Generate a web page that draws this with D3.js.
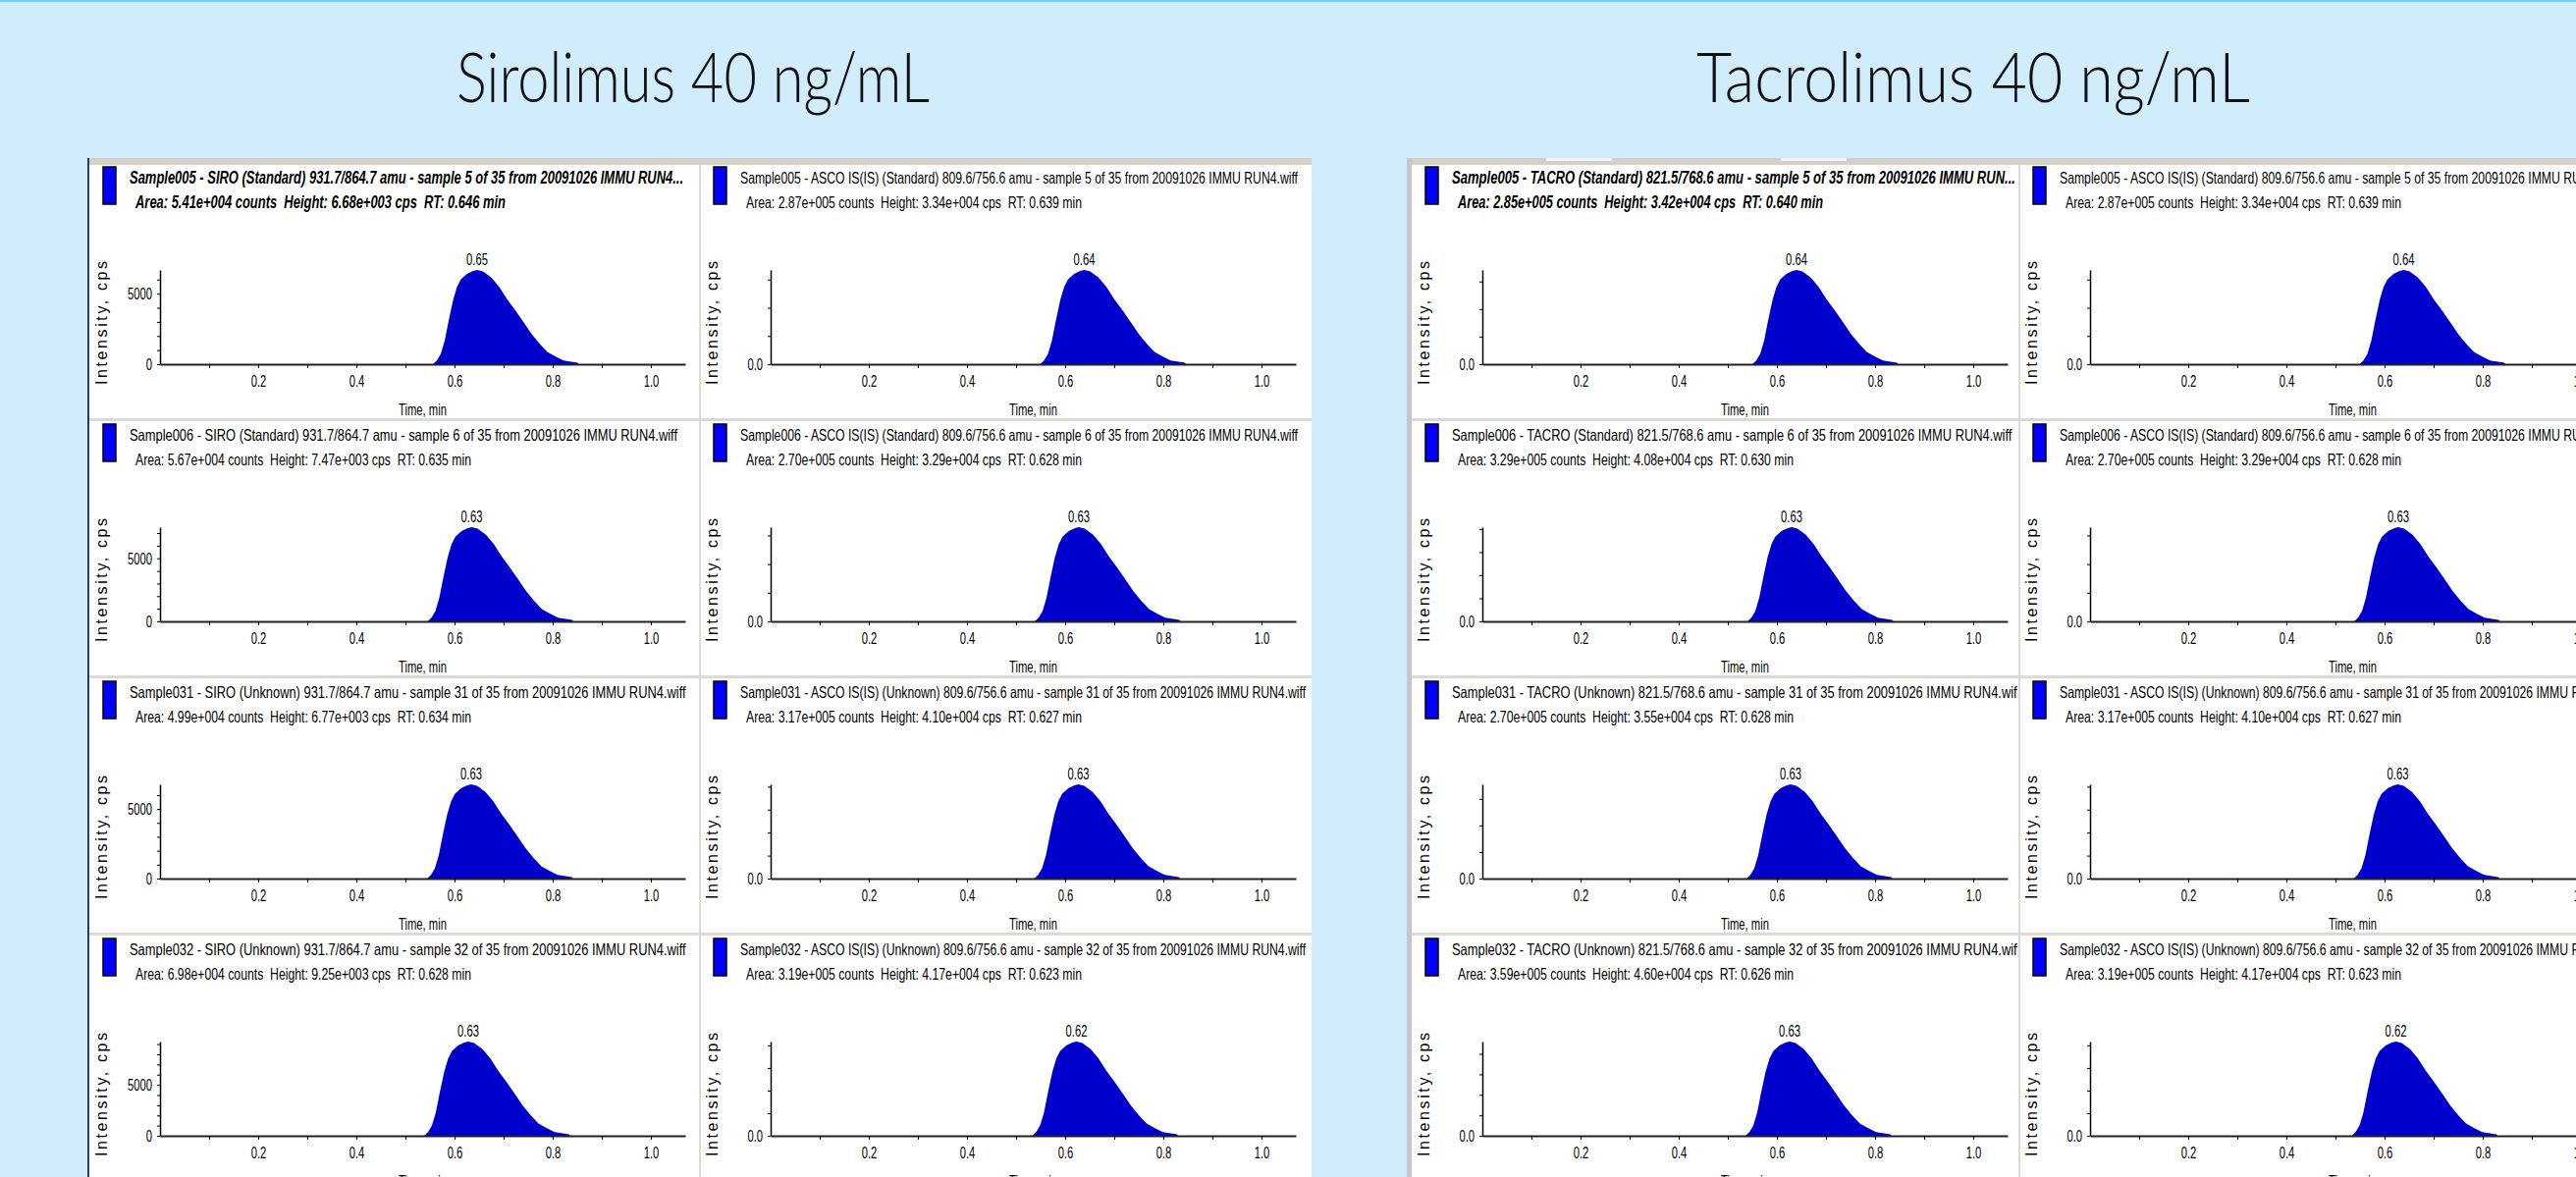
<!DOCTYPE html>
<html>
<head>
<meta charset="utf-8">
<script src="https://cdn.jsdelivr.net/npm/d3@7"></script>
<style>
   body { margin: 0; background: #d1ecfa; overflow: hidden; }
   .bigTitle { font-family: Lato, "Open Sans", sans-serif; font-weight: 300; font-size: 71px; fill: #111; }
   .hdr { font-family: "Liberation Sans", Arial, sans-serif; font-size: 16.5px; fill: #000; white-space: pre; }
   .hdr.sel { font-weight: bold; font-style: italic; font-size: 18px; }
   .tick text { font-family: "Liberation Sans", Arial, sans-serif; font-size: 17px; fill: #000; }
   .apex { font-family: "Liberation Sans", Arial, sans-serif; font-size: 17px; fill: #000; }
   .xlab { font-family: "Liberation Sans", Arial, sans-serif; font-size: 17px; fill: #000; }
   .ylab { font-family: "Liberation Sans", Arial, sans-serif; font-size: 16px; fill: #000; }
</style>
</head>
<body>
<svg id="chart"></svg>
<script>
const width = 2624;
const height = 1199;

// peak shape: offset from apex (min) and fraction of apex height
const profileDt  = [-0.090, -0.082, -0.074, -0.066, -0.058, -0.049, -0.041, -0.033, -0.020, -0.008, 0,
                    0.012, 0.029, 0.045, 0.061, 0.078, 0.094, 0.111, 0.127, 0.143, 0.160, 0.176, 0.192, 0.205, 0.207];
const profileRel = [0, 0.04, 0.11, 0.25, 0.46, 0.68, 0.82, 0.90, 0.96, 0.99, 1,
                    0.985, 0.92, 0.82, 0.69, 0.57, 0.45, 0.32, 0.22, 0.13, 0.08, 0.04, 0.025, 0.015, 0];

const timeTicks  = [0.1, 0.2, 0.3, 0.4, 0.5, 0.6, 0.7, 0.8, 0.9, 1.0];
const timeLabels = [0.2, 0.4, 0.6, 0.8, 1.0];
const timeMax = 1.07;

// Sirolimus
const siroTitles = [
   "Sample005 - SIRO (Standard) 931.7/864.7 amu - sample 5 of 35 from 20091026 IMMU RUN4...",
   "Sample006 - SIRO (Standard) 931.7/864.7 amu - sample 6 of 35 from 20091026 IMMU RUN4.wiff",
   "Sample031 - SIRO (Unknown) 931.7/864.7 amu - sample 31 of 35 from 20091026 IMMU RUN4.wiff",
   "Sample032 - SIRO (Unknown) 931.7/864.7 amu - sample 32 of 35 from 20091026 IMMU RUN4.wiff"];
const siroInfo = [
   "Area: 5.41e+004 counts  Height: 6.68e+003 cps  RT: 0.646 min",
   "Area: 5.67e+004 counts  Height: 7.47e+003 cps  RT: 0.635 min",
   "Area: 4.99e+004 counts  Height: 6.77e+003 cps  RT: 0.634 min",
   "Area: 6.98e+004 counts  Height: 9.25e+003 cps  RT: 0.628 min"];
const siroHeight = [6680, 7470, 6770, 9250];
const siroRT     = [0.646, 0.635, 0.634, 0.628];
const siroApex   = ["0.65", "0.63", "0.63", "0.63"];
const siroTickStep = 1000;
const siroTickLabels = [0, 5000];

// internal standard (same in both panels)
const ascoTitles = [
   "Sample005 - ASCO IS(IS) (Standard) 809.6/756.6 amu - sample 5 of 35 from 20091026 IMMU RUN4.wiff",
   "Sample006 - ASCO IS(IS) (Standard) 809.6/756.6 amu - sample 6 of 35 from 20091026 IMMU RUN4.wiff",
   "Sample031 - ASCO IS(IS) (Unknown) 809.6/756.6 amu - sample 31 of 35 from 20091026 IMMU RUN4.wiff",
   "Sample032 - ASCO IS(IS) (Unknown) 809.6/756.6 amu - sample 32 of 35 from 20091026 IMMU RUN4.wiff"];
const ascoInfo = [
   "Area: 2.87e+005 counts  Height: 3.34e+004 cps  RT: 0.639 min",
   "Area: 2.70e+005 counts  Height: 3.29e+004 cps  RT: 0.628 min",
   "Area: 3.17e+005 counts  Height: 4.10e+004 cps  RT: 0.627 min",
   "Area: 3.19e+005 counts  Height: 4.17e+004 cps  RT: 0.623 min"];
const ascoHeight = [33400, 32900, 41000, 41700];
const ascoRT     = [0.639, 0.628, 0.627, 0.623];
const ascoApex   = ["0.64", "0.63", "0.63", "0.62"];
const bigTickStep = 10000;
const bigTickLabels = [0];

// Tacrolimus
const tacroTitles = [
   "Sample005 - TACRO (Standard) 821.5/768.6 amu - sample 5 of 35 from 20091026 IMMU RUN...",
   "Sample006 - TACRO (Standard) 821.5/768.6 amu - sample 6 of 35 from 20091026 IMMU RUN4.wiff",
   "Sample031 - TACRO (Unknown) 821.5/768.6 amu - sample 31 of 35 from 20091026 IMMU RUN4.wiff",
   "Sample032 - TACRO (Unknown) 821.5/768.6 amu - sample 32 of 35 from 20091026 IMMU RUN4.wiff"];
const tacroInfo = [
   "Area: 2.85e+005 counts  Height: 3.42e+004 cps  RT: 0.640 min",
   "Area: 3.29e+005 counts  Height: 4.08e+004 cps  RT: 0.630 min",
   "Area: 2.70e+005 counts  Height: 3.55e+004 cps  RT: 0.628 min",
   "Area: 3.59e+005 counts  Height: 4.60e+004 cps  RT: 0.626 min"];
const tacroHeight = [34200, 40800, 35500, 46000];
const tacroRT     = [0.640, 0.630, 0.628, 0.626];
const tacroApex   = ["0.64", "0.63", "0.63", "0.63"];

// layout
const panelTop = 161;
const rowTop0 = 166;
const rowPitch = 262;
const plotLeft = 72, plotRight = 607;
const plotTop = 109, plotBase = 205;

const svg = d3.select("#chart")
   .attr("width", width)
   .attr("height", height);

svg.append("rect")
   .attr("width", width).attr("height", height)
   .style("fill", "#d1ecfa");
svg.append("rect")
   .attr("width", width).attr("height", 2)
   .style("fill", "#74d0f6");

// squeeze text horizontally to mimic the narrow instrument font
function narrow(sel, k) {
   sel.each(function() {
      const w = this.getComputedTextLength();
      if (w > 0) d3.select(this).attr("textLength", w * k).attr("lengthAdjust", "spacingAndGlyphs");
   });
}

function squeezeFor(str, px) {
   const probe = svg.append("text").attr("class", "hdr").text(str);
   const k = px / probe.node().getComputedTextLength();
   probe.remove();
   return k;
}
const titleK = squeezeFor(siroTitles[1], 558);
const ascoK  = squeezeFor(ascoTitles[0], 568);
const infoK  = squeezeFor(siroInfo[1], 342);
const labK = 0.66;

const siro  = {titles: siroTitles,  info: siroInfo,  peak: siroHeight,  rt: siroRT,  apex: siroApex,  step: siroTickStep, labels: siroTickLabels, fmt: d3.format("d"),   k: titleK};
const asco  = {titles: ascoTitles,  info: ascoInfo,  peak: ascoHeight,  rt: ascoRT,  apex: ascoApex,  step: bigTickStep,  labels: bigTickLabels,  fmt: d3.format(".1f"), k: ascoK};
const tacro = {titles: tacroTitles, info: tacroInfo, peak: tacroHeight, rt: tacroRT, apex: tacroApex, step: bigTickStep,  labels: bigTickLabels,  fmt: d3.format(".1f"), k: titleK};

// big titles
svg.append("text")
   .attr("class", "bigTitle")
   .attr("x", 706).attr("y", 104)
   .attr("text-anchor", "middle")
   .attr("textLength", 482).attr("lengthAdjust", "spacingAndGlyphs")
   .text("Sirolimus 40 ng/mL");
svg.append("text")
   .attr("class", "bigTitle")
   .attr("x", 2010).attr("y", 104)
   .attr("text-anchor", "middle")
   .attr("textLength", 564).attr("lengthAdjust", "spacingAndGlyphs")
   .text("Tacrolimus 40 ng/mL");

const panels = [
   {x: 89,   w: 1336 - 89,    left: 91,   cellW: 622, border: "#22379c", borderW: 2, cols: [siro, asco],  selTitleLen: 564, selInfoLen: 377},
   {x: 1433, w: width - 1433, left: 1438, cellW: 619, border: "#c6c6c6", borderW: 5, cols: [tacro, asco], selTitleLen: 574, selInfoLen: 372}
];

let clipId = 0;

function drawCell(g, d, r, selected, sp) {
   const id = "clip" + (clipId++);
   g.append("clipPath").attr("id", id)
      .append("rect").attr("width", sp.cellW - 2).attr("height", rowPitch - 2);
   const c = g.append("g").attr("clip-path", `url(#${id})`);

   c.append("rect")
      .attr("x", 14).attr("y", 4)
      .attr("width", 13).attr("height", 38)
      .style("fill", "#0000ff").style("stroke", "#000").style("stroke-width", 1.5);

   const t1 = c.append("text")
      .attr("class", selected ? "hdr sel" : "hdr")
      .attr("x", 41).attr("y", 21)
      .text(d.titles[r]);
   const t2 = c.append("text")
      .attr("class", selected ? "hdr sel" : "hdr")
      .attr("x", 47).attr("y", 46)
      .text(d.info[r]);
   if (selected) {
      t1.attr("textLength", sp.selTitleLen).attr("lengthAdjust", "spacingAndGlyphs");
      t2.attr("textLength", sp.selInfoLen).attr("lengthAdjust", "spacingAndGlyphs");
   } else {
      narrow(t1, d.k);
      narrow(t2, infoK);
   }

   const x = d3.scaleLinear().domain([0, timeMax]).range([plotLeft, plotRight]);
   const y = d3.scaleLinear().domain([0, d.peak[r]]).range([plotBase, plotTop]);

   const area = d3.area()
      .x((p, i) => x(d.rt[r] + profileDt[i]))
      .y0(y(0))
      .y1((p, i) => y(profileRel[i] * d.peak[r]));

   c.append("path")
      .datum(profileRel)
      .attr("d", area)
      .style("fill", "#0000cc");

   // x axis
   const xAxis = d3.axisBottom(x)
      .tickValues(timeTicks)
      .tickSizeInner(4).tickSizeOuter(0).tickPadding(7)
      .tickFormat(v => timeLabels.some(l => Math.abs(l - v) < 1e-9) ? d3.format(".1f")(v) : "");
   const gx = c.append("g").attr("transform", `translate(0,${plotBase})`).call(xAxis);
   gx.select(".domain").style("stroke", "#222").style("stroke-width", 2);
   gx.selectAll(".tick line").style("stroke", "#000");
   narrow(gx.selectAll(".tick text"), labK);

   // y axis
   const yAxis = d3.axisLeft(y)
      .tickValues(d3.range(0, d.peak[r], d.step))
      .tickSizeInner(3).tickSizeOuter(0).tickPadding(5)
      .tickFormat(v => d.labels.includes(v) ? d.fmt(v) : "");
   const gy = c.append("g").attr("transform", `translate(${plotLeft},0)`).call(yAxis);
   gy.select(".domain").style("stroke", "#000").style("stroke-width", 1.5);
   gy.selectAll(".tick line").style("stroke", "#000");
   narrow(gy.selectAll(".tick text"), labK);

   const ap = c.append("text")
      .attr("class", "apex")
      .attr("x", x(d.rt[r])).attr("y", y(d.peak[r]) - 5)
      .attr("text-anchor", "middle")
      .text(d.apex[r]);
   narrow(ap, labK);

   const tl = c.append("text")
      .attr("class", "xlab")
      .attr("x", (plotLeft + plotRight) / 2).attr("y", plotBase + 52)
      .attr("text-anchor", "middle")
      .text("Time, min");
   narrow(tl, labK);

   c.append("text")
      .attr("class", "ylab")
      .attr("transform", `translate(18,${(plotTop + plotBase) / 2 + 6}) rotate(-90)`)
      .attr("text-anchor", "middle")
      .attr("textLength", 126).attr("lengthAdjust", "spacing")
      .text("Intensity, cps");
}

panels.forEach((p, pi) => {
   const pg = svg.append("g");
   pg.append("rect")
      .attr("x", p.x).attr("y", panelTop)
      .attr("width", p.w).attr("height", height - panelTop)
      .style("fill", "#fff");
   pg.append("rect")
      .attr("x", p.x).attr("y", panelTop)
      .attr("width", p.w).attr("height", 7)
      .style("fill", "#d4d0c8");
   if (pi == 1) {
      [1575, 1814].forEach(tx => {
         pg.append("rect")
            .attr("x", tx).attr("y", panelTop)
            .attr("width", 67).attr("height", 3)
            .style("fill", "#f4f4f4");
      });
   }
   pg.append("rect")
      .attr("x", p.x).attr("y", panelTop)
      .attr("width", p.borderW).attr("height", height - panelTop)
      .style("fill", p.border);

   for (let r = 1; r < 4; r++) {
      pg.append("rect")
         .attr("x", p.left).attr("y", rowTop0 + r * rowPitch - 2)
         .attr("width", p.w - (p.left - p.x)).attr("height", 3)
         .style("fill", "#dcdad4");
   }
   pg.append("rect")
      .attr("x", p.left + p.cellW - 1).attr("y", panelTop + 7)
      .attr("width", 2).attr("height", height - panelTop)
      .style("fill", "#dcdad4");

   p.cols.forEach((d, ci) => {
      for (let r = 0; r < 4; r++) {
         const g = pg.append("g")
            .attr("transform", `translate(${p.left + ci * p.cellW},${rowTop0 + r * rowPitch})`);
         drawCell(g, d, r, ci == 0 && r == 0, p);
      }
   });
});
</script>
</body>
</html>
